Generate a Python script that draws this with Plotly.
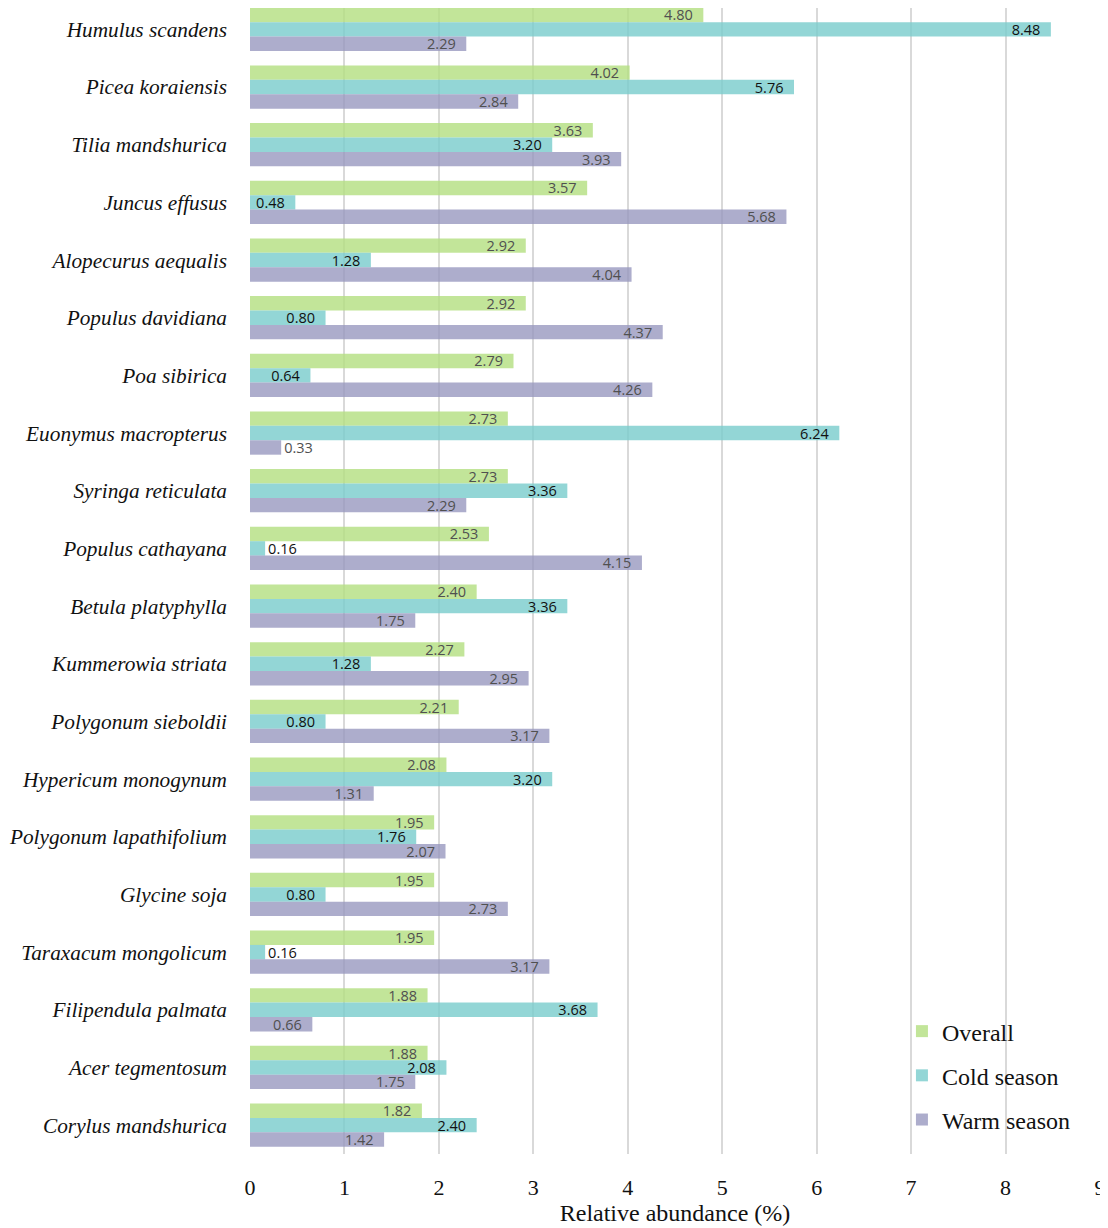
import plotly.graph_objects as go

species = ["Humulus scandens", "Picea koraiensis", "Tilia mandshurica", "Juncus effusus",
           "Alopecurus aequalis", "Populus davidiana", "Poa sibirica", "Euonymus macropterus",
           "Syringa reticulata", "Populus cathayana", "Betula platyphylla", "Kummerowia striata",
           "Polygonum sieboldii", "Hypericum monogynum", "Polygonum lapathifolium", "Glycine soja",
           "Taraxacum mongolicum", "Filipendula palmata", "Acer tegmentosum", "Corylus mandshurica"]
overall = [4.80, 4.02, 3.63, 3.57, 2.92, 2.92, 2.79, 2.73, 2.73, 2.53,
           2.40, 2.27, 2.21, 2.08, 1.95, 1.95, 1.95, 1.88, 1.88, 1.82]
cold = [8.48, 5.76, 3.20, 0.48, 1.28, 0.80, 0.64, 6.24, 3.36, 0.16,
        3.36, 1.28, 0.80, 3.20, 1.76, 0.80, 0.16, 3.68, 2.08, 2.40]
warm = [2.29, 2.84, 3.93, 5.68, 4.04, 4.37, 4.26, 0.33, 2.29, 4.15,
        1.75, 2.95, 3.17, 1.31, 2.07, 2.73, 3.17, 0.66, 1.75, 1.42]
series_names = ["Overall", "Cold season", "Warm season"]
colors = ["rgba(180,223,130,0.82)", "rgba(120,204,204,0.80)", "rgba(150,150,190,0.78)"]
text_colors = ["#505050", "#111111", "#505050"]
x_ticks = list(range(0, 10))

fig = go.Figure()
for name, vals, col, tcol in zip(series_names, [overall, cold, warm], colors, text_colors):
    fig.add_trace(go.Bar(
        y=species, x=vals, name=name, orientation="h",
        marker=dict(color=col, line=dict(width=0)),
        text=[f"{v:.2f}" if v < 0.4 else f"{v:.2f}\u00a0\u00a0" for v in vals],
        textposition=["outside" if v < 0.4 else "inside" for v in vals],
        insidetextanchor="end",
        constraintext="none",
        cliponaxis=False,
        textfont=dict(family="Open Sans, sans-serif", size=14.5, color=tcol),
        legendgroup=name,
    ))

fig.update_layout(
    width=1100, height=1220,
    barmode="group", bargap=0.25, bargroupgap=0,
    plot_bgcolor="white", paper_bgcolor="white",
    margin=dict(l=242, r=8, t=0, b=74),
    legend=dict(x=0.767, y=0.1265, xanchor="left", yanchor="top",
                font=dict(family="Liberation Serif, serif", size=24, color="#111"),
                traceorder="grouped", tracegroupgap=10, bgcolor="rgba(255,255,255,0)"),
    showlegend=True,
)
fig.update_yaxes(range=[19.5, -0.37], showgrid=False, ticks="", automargin=False,
                 tickfont=dict(family="Liberation Serif, serif", size=21.3, color="#111", style="italic"),
                 ticklabelstandoff=22, showline=False)
fig.update_xaxes(range=[0, 9], tickvals=x_ticks, showgrid=True, gridcolor="#d9d9d9", gridwidth=1.5,
                 zeroline=False, showline=False, ticks="", automargin=False,
                 tickfont=dict(family="Liberation Serif, serif", size=22, color="#111"),
                 ticklabelstandoff=18,
                 title=dict(text="Relative abundance (%)", standoff=2,
                            font=dict(family="Liberation Serif, serif", size=24, color="#111")))

fig.write_html("out.html")
